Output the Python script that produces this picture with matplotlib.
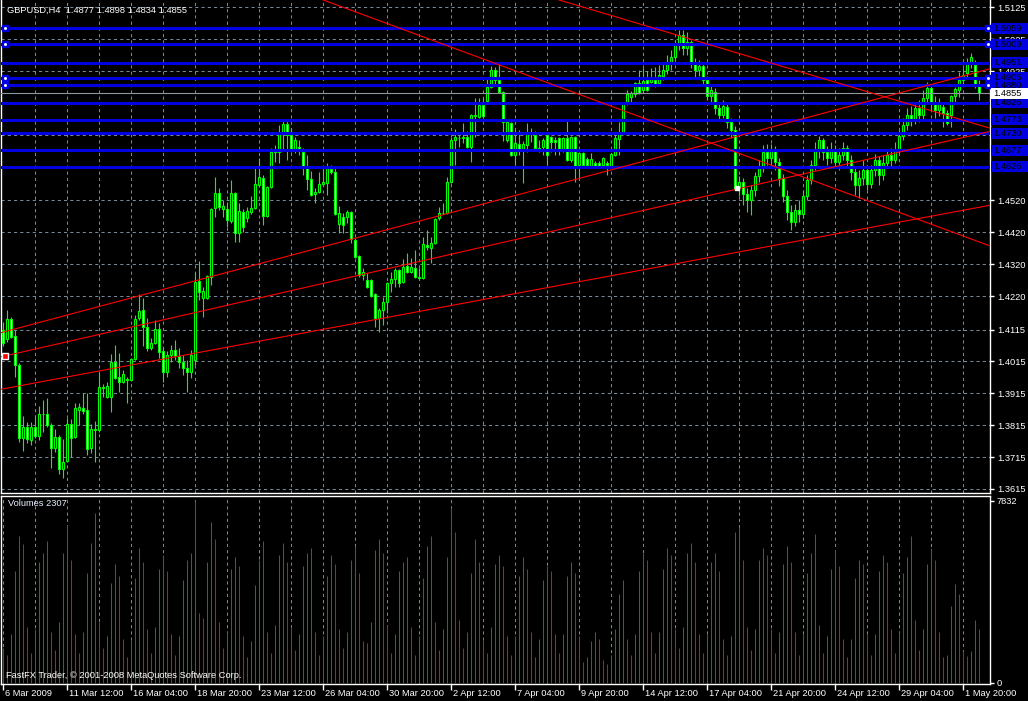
import numpy as np
import matplotlib.pyplot as plt
from matplotlib import transforms
from matplotlib.patches import Rectangle

plt.rcParams['font.family'] = ['Liberation Sans', 'DejaVu Sans']

symbol = "GBPUSD,H4"

# H4 bars, 6 Mar 2009 20:00 .. 4 May 2009 12:00
opens = [
    1.4114, 1.4085, 1.4148, 1.4095, 1.4004, 1.3775, 1.3809, 1.3769, 1.3809, 1.3781,
    1.3850, 1.3850, 1.3816, 1.3744, 1.3778, 1.3678, 1.3703, 1.3819, 1.3778, 1.3863,
    1.3869, 1.3863, 1.3744, 1.3803, 1.3800, 1.3935, 1.3904, 1.3904, 1.4013, 1.3966,
    1.3950, 1.3960, 1.3957, 1.4023, 1.4151, 1.4176, 1.4123, 1.4057, 1.4073, 1.4117,
    1.4048, 1.3982, 1.4035, 1.4051, 1.4032, 1.4013, 1.3994, 1.3982, 1.4019, 1.4267,
    1.4214, 1.4214, 1.4280, 1.4496, 1.4543, 1.4493, 1.4493, 1.4455, 1.4543, 1.4418,
    1.4483, 1.4465, 1.4483, 1.4496, 1.4568, 1.4590, 1.4471, 1.4562, 1.4672, 1.4672,
    1.4728, 1.4759, 1.4725, 1.4678, 1.4687, 1.4672, 1.4625, 1.4587, 1.4540, 1.4546,
    1.4571, 1.4574, 1.4618, 1.4609, 1.4446, 1.4468, 1.4468, 1.4483, 1.4396, 1.4346,
    1.4286, 1.4270, 1.4270, 1.4226, 1.4151, 1.4176, 1.4201, 1.4261, 1.4273, 1.4302,
    1.4264, 1.4314, 1.4295, 1.4308, 1.4280, 1.4277, 1.4380, 1.4370, 1.4386, 1.4465,
    1.4480, 1.4480, 1.4577, 1.4709, 1.4715, 1.4715, 1.4719, 1.4687, 1.4784, 1.4781,
    1.4819, 1.4831, 1.4875, 1.4929, 1.4897, 1.4860, 1.4709, 1.4762, 1.4662, 1.4697,
    1.4678, 1.4693, 1.4731, 1.4725, 1.4684, 1.4687, 1.4725, 1.4719, 1.4709, 1.4715,
    1.4678, 1.4715, 1.4646, 1.4719, 1.4631, 1.4668, 1.4650, 1.4628, 1.4637, 1.4637,
    1.4631, 1.4637, 1.4628, 1.4662, 1.4712, 1.4734, 1.4825, 1.4844, 1.4853, 1.4888,
    1.4866, 1.4897, 1.4891, 1.4897, 1.4888, 1.4910, 1.4929, 1.4954, 1.4969, 1.5007,
    1.5038, 1.4998, 1.5016, 1.4954, 1.4929, 1.4941, 1.4897, 1.4847, 1.4860, 1.4810,
    1.4788, 1.4813, 1.4766, 1.4740, 1.4559, 1.4577, 1.4540, 1.4521, 1.4552, 1.4596,
    1.4621, 1.4672, 1.4653, 1.4678, 1.4640, 1.4590, 1.4534, 1.4483, 1.4452, 1.4490,
    1.4477, 1.4534, 1.4584, 1.4631, 1.4678, 1.4709, 1.4672, 1.4653, 1.4678, 1.4640,
    1.4662, 1.4684, 1.4646, 1.4609, 1.4568, 1.4590, 1.4615, 1.4571, 1.4615, 1.4646,
    1.4599, 1.4637, 1.4662, 1.4646, 1.4678, 1.4722, 1.4756, 1.4788, 1.4772, 1.4810,
    1.4788, 1.4841, 1.4872, 1.4828, 1.4803, 1.4813, 1.4794, 1.4788, 1.4847, 1.4866,
    1.4897, 1.4919, 1.4950, 1.4944, 1.4877]
highs = [
    1.4139, 1.4176, 1.4154, 1.4114, 1.4010, 1.3844, 1.3825, 1.3825, 1.3847, 1.3875,
    1.3894, 1.3900, 1.3822, 1.3803, 1.3784, 1.3772, 1.3838, 1.3834, 1.3885, 1.3885,
    1.3916, 1.3916, 1.3819, 1.3828, 1.3979, 1.3944, 1.3950, 1.4038, 1.4066, 1.4041,
    1.3988, 1.3966, 1.4026, 1.4161, 1.4226, 1.4214, 1.4151, 1.4088, 1.4145, 1.4135,
    1.4060, 1.4048, 1.4066, 1.4082, 1.4057, 1.4035, 1.4019, 1.4051, 1.4295, 1.4330,
    1.4248, 1.4286, 1.4496, 1.4593, 1.4559, 1.4521, 1.4515, 1.4584, 1.4546, 1.4512,
    1.4493, 1.4499, 1.4534, 1.4621, 1.4653, 1.4599, 1.4565, 1.4684, 1.4693, 1.4756,
    1.4772, 1.4769, 1.4747, 1.4719, 1.4709, 1.4684, 1.4662, 1.4612, 1.4559, 1.4609,
    1.4621, 1.4637, 1.4631, 1.4621, 1.4502, 1.4480, 1.4490, 1.4487, 1.4402, 1.4349,
    1.4308, 1.4292, 1.4273, 1.4230, 1.4182, 1.4217, 1.4264, 1.4295, 1.4308, 1.4305,
    1.4336, 1.4355, 1.4339, 1.4364, 1.4308, 1.4405, 1.4427, 1.4405, 1.4465, 1.4499,
    1.4512, 1.4593, 1.4719, 1.4744, 1.4734, 1.4762, 1.4737, 1.4791, 1.4841, 1.4841,
    1.4841, 1.4904, 1.4941, 1.4938, 1.4954, 1.4863, 1.4772, 1.4766, 1.4740, 1.4740,
    1.4706, 1.4762, 1.4747, 1.4737, 1.4709, 1.4715, 1.4731, 1.4722, 1.4719, 1.4719,
    1.4718, 1.4775, 1.4722, 1.4722, 1.4672, 1.4672, 1.4656, 1.4668, 1.4643, 1.4643,
    1.4656, 1.4643, 1.4668, 1.4734, 1.4766, 1.4828, 1.4866, 1.4863, 1.4891, 1.4929,
    1.4935, 1.4926, 1.4935, 1.4938, 1.4944, 1.4954, 1.4976, 1.4991, 1.5023, 1.5054,
    1.5054, 1.5048, 1.5023, 1.4966, 1.4960, 1.4947, 1.4910, 1.4885, 1.4872, 1.4828,
    1.4835, 1.4822, 1.4778, 1.4753, 1.4596, 1.4590, 1.4559, 1.4568, 1.4609, 1.4646,
    1.4693, 1.4697, 1.4697, 1.4690, 1.4653, 1.4603, 1.4552, 1.4505, 1.4508, 1.4521,
    1.4552, 1.4599, 1.4646, 1.4703, 1.4722, 1.4715, 1.4690, 1.4703, 1.4693, 1.4684,
    1.4703, 1.4693, 1.4662, 1.4621, 1.4615, 1.4646, 1.4631, 1.4631, 1.4665, 1.4659,
    1.4662, 1.4678, 1.4684, 1.4703, 1.4740, 1.4778, 1.4810, 1.4816, 1.4828, 1.4835,
    1.4866, 1.4891, 1.4882, 1.4847, 1.4841, 1.4822, 1.4803, 1.4850, 1.4875, 1.4922,
    1.4935, 1.4966, 1.4982, 1.4960, 1.4898]
lows = [
    1.4063, 1.4076, 1.4088, 1.3966, 1.3762, 1.3734, 1.3759, 1.3753, 1.3775, 1.3769,
    1.3794, 1.3809, 1.3681, 1.3731, 1.3662, 1.3650, 1.3700, 1.3715, 1.3775, 1.3816,
    1.3850, 1.3722, 1.3728, 1.3700, 1.3794, 1.3904, 1.3900, 1.3856, 1.3960, 1.3919,
    1.3947, 1.3885, 1.3954, 1.4019, 1.4145, 1.4063, 1.4048, 1.4051, 1.4070, 1.4026,
    1.3950, 1.3966, 1.4013, 1.4019, 1.3994, 1.3972, 1.3919, 1.3963, 1.4004, 1.4208,
    1.4154, 1.4211, 1.4255, 1.4468, 1.4490, 1.4468, 1.4436, 1.4449, 1.4389, 1.4389,
    1.4421, 1.4452, 1.4477, 1.4493, 1.4562, 1.4443, 1.4468, 1.4559, 1.4640, 1.4637,
    1.4678, 1.4646, 1.4672, 1.4668, 1.4662, 1.4599, 1.4552, 1.4534, 1.4512, 1.4543,
    1.4568, 1.4537, 1.4603, 1.4474, 1.4418, 1.4418, 1.4449, 1.4386, 1.4339, 1.4280,
    1.4270, 1.4245, 1.4217, 1.4123, 1.4107, 1.4129, 1.4167, 1.4233, 1.4248, 1.4248,
    1.4261, 1.4292, 1.4292, 1.4277, 1.4270, 1.4273, 1.4364, 1.4324, 1.4383, 1.4458,
    1.4477, 1.4477, 1.4574, 1.4631, 1.4687, 1.4700, 1.4684, 1.4640, 1.4719, 1.4778,
    1.4778, 1.4828, 1.4872, 1.4882, 1.4857, 1.4706, 1.4703, 1.4659, 1.4631, 1.4662,
    1.4574, 1.4672, 1.4703, 1.4681, 1.4672, 1.4662, 1.4631, 1.4672, 1.4662, 1.4662,
    1.4672, 1.4643, 1.4640, 1.4577, 1.4590, 1.4625, 1.4621, 1.4621, 1.4621, 1.4625,
    1.4621, 1.4599, 1.4625, 1.4659, 1.4662, 1.4731, 1.4819, 1.4825, 1.4844, 1.4853,
    1.4860, 1.4863, 1.4888, 1.4875, 1.4882, 1.4897, 1.4916, 1.4929, 1.4960, 1.4991,
    1.4976, 1.4976, 1.4935, 1.4904, 1.4910, 1.4878, 1.4835, 1.4822, 1.4791, 1.4772,
    1.4778, 1.4747, 1.4715, 1.4552, 1.4534, 1.4505, 1.4483, 1.4474, 1.4534, 1.4577,
    1.4609, 1.4631, 1.4628, 1.4615, 1.4565, 1.4515, 1.4458, 1.4427, 1.4440, 1.4452,
    1.4465, 1.4521, 1.4571, 1.4615, 1.4653, 1.4646, 1.4631, 1.4637, 1.4621, 1.4615,
    1.4646, 1.4628, 1.4584, 1.4537, 1.4527, 1.4568, 1.4552, 1.4559, 1.4596, 1.4568,
    1.4584, 1.4621, 1.4628, 1.4637, 1.4665, 1.4709, 1.4740, 1.4753, 1.4759, 1.4766,
    1.4772, 1.4822, 1.4803, 1.4778, 1.4784, 1.4750, 1.4756, 1.4750, 1.4825, 1.4844,
    1.4882, 1.4907, 1.4935, 1.4872, 1.4834]
closes = [
    1.4073, 1.4148, 1.4092, 1.4004, 1.3775, 1.3809, 1.3772, 1.3809, 1.3781, 1.3850,
    1.3851, 1.3816, 1.3744, 1.3778, 1.3678, 1.3700, 1.3819, 1.3775, 1.3869, 1.3872,
    1.3860, 1.3740, 1.3803, 1.3800, 1.3935, 1.3932, 1.3938, 1.4013, 1.3963, 1.3950,
    1.3976, 1.3957, 1.4023, 1.4148, 1.4173, 1.4123, 1.4057, 1.4073, 1.4117, 1.4045,
    1.3982, 1.4035, 1.4051, 1.4032, 1.4013, 1.3994, 1.3982, 1.4035, 1.4264, 1.4233,
    1.4236, 1.4283, 1.4493, 1.4543, 1.4499, 1.4502, 1.4458, 1.4543, 1.4418, 1.4487,
    1.4436, 1.4487, 1.4496, 1.4571, 1.4593, 1.4471, 1.4562, 1.4672, 1.4678, 1.4731,
    1.4759, 1.4725, 1.4678, 1.4709, 1.4678, 1.4625, 1.4587, 1.4537, 1.4546, 1.4571,
    1.4577, 1.4621, 1.4609, 1.4477, 1.4480, 1.4443, 1.4483, 1.4399, 1.4342, 1.4286,
    1.4295, 1.4248, 1.4220, 1.4151, 1.4176, 1.4201, 1.4261, 1.4273, 1.4302, 1.4261,
    1.4311, 1.4295, 1.4311, 1.4280, 1.4277, 1.4383, 1.4374, 1.4386, 1.4462, 1.4480,
    1.4481, 1.4577, 1.4709, 1.4719, 1.4716, 1.4719, 1.4687, 1.4788, 1.4788, 1.4819,
    1.4784, 1.4875, 1.4929, 1.4897, 1.4860, 1.4766, 1.4766, 1.4662, 1.4700, 1.4678,
    1.4697, 1.4731, 1.4728, 1.4684, 1.4681, 1.4709, 1.4662, 1.4703, 1.4703, 1.4678,
    1.4715, 1.4646, 1.4719, 1.4628, 1.4668, 1.4631, 1.4631, 1.4650, 1.4628, 1.4628,
    1.4653, 1.4631, 1.4665, 1.4715, 1.4734, 1.4825, 1.4853, 1.4857, 1.4888, 1.4857,
    1.4894, 1.4866, 1.4900, 1.4882, 1.4913, 1.4929, 1.4954, 1.4969, 1.5007, 1.5038,
    1.4998, 1.5016, 1.4954, 1.4929, 1.4941, 1.4897, 1.4847, 1.4866, 1.4810, 1.4788,
    1.4816, 1.4766, 1.4740, 1.4559, 1.4577, 1.4540, 1.4521, 1.4552, 1.4596, 1.4621,
    1.4672, 1.4653, 1.4678, 1.4640, 1.4590, 1.4534, 1.4483, 1.4452, 1.4490, 1.4477,
    1.4534, 1.4584, 1.4631, 1.4678, 1.4709, 1.4672, 1.4653, 1.4678, 1.4640, 1.4662,
    1.4684, 1.4646, 1.4609, 1.4568, 1.4590, 1.4615, 1.4571, 1.4615, 1.4646, 1.4599,
    1.4637, 1.4662, 1.4646, 1.4678, 1.4722, 1.4756, 1.4788, 1.4772, 1.4810, 1.4788,
    1.4841, 1.4872, 1.4828, 1.4803, 1.4822, 1.4794, 1.4762, 1.4847, 1.4869, 1.4897,
    1.4913, 1.4950, 1.4969, 1.4878, 1.4855]

# one row per trading day: 00, 04, 08, 12, 16, 20
volumes = [
    1500,
    1200, 2100, 4800, 6300, 5950, 2400,
    1300, 2300, 5200, 5600, 6100, 2200,
    1400, 2600, 5600, 6800, 5300, 2100,
    1300, 2200, 4700, 6000, 7290, 2600,
    1500, 2000, 4300, 5100, 4600, 1900,
    1100, 1900, 4500, 5800, 5200, 2300,
    1300, 2400, 4900, 5500, 4800, 2100,
    1200, 2000, 4400, 5300, 5600, 7832,
    3000, 2800, 5200, 6900, 6200, 2600,
    1500, 2200, 4900, 5400, 5000, 2000,
    1100, 1800, 4200, 5300, 6100, 2200,
    1300, 2500, 5500, 6000, 5200, 2400,
    1400, 2100, 5000, 5600, 5800, 2200,
    1200, 2000, 4600, 5500, 5100, 2300,
    1500, 2200, 5300, 5900, 4700, 1800,
    1700, 2600, 5700, 6200, 5600, 2500,
    1300, 2100, 4800, 5200, 5400, 2400,
    1200, 2000, 4500, 5900, 6300, 2600,
    1400, 2300, 5400, 7500, 6500, 2700,
    1500, 2200, 4700, 6200, 5200, 1900,
    1300, 2400, 5100, 5500, 5000, 2000,
    1200, 2000, 4600, 5400, 4900, 2200,
    1100, 1900, 4400, 5000, 4800, 2100,
    1300, 2100, 4600, 5200, 4700, 2000,
    900, 1100, 1800, 2200, 1900, 1000,
    800, 1200, 2300, 3800, 4400, 1900,
    1200, 2100, 4800, 5600, 5300, 2200,
    1300, 2200, 4900, 5800, 5500, 2300,
    1500, 2400, 5600, 6000, 5200, 2100,
    1300, 2100, 5200, 5600, 4800, 1900,
    1200, 2000, 6500, 6700, 5300, 2400,
    1400, 2300, 5300, 5800, 5500, 2300,
    1300, 2200, 5100, 5900, 5200, 2200,
    1200, 2100, 4700, 5600, 6400, 2500,
    1300, 2000, 4900, 5700, 5000, 1900,
    1100, 1900, 4500, 5300, 5100, 2100,
    1200, 2100, 4800, 5500, 5200, 2300,
    1300, 2200, 4700, 5400, 6300, 2700,
    1400, 2300, 5100, 5800, 5300, 2200,
    1126, 1198, 3295, 4237, 3809, 1370,
    1155, 1370, 2696, 2307]

time_labels = ["6 Mar 2009", "11 Mar 12:00", "16 Mar 04:00", "18 Mar 20:00",
               "23 Mar 12:00", "26 Mar 04:00", "30 Mar 20:00", "2 Apr 12:00",
               "7 Apr 04:00", "9 Apr 20:00", "14 Apr 12:00", "17 Apr 04:00",
               "21 Apr 20:00", "24 Apr 12:00", "29 Apr 04:00", "1 May 20:00"]
price_ticks = [1.5125, 1.5025, 1.4925, 1.4825, 1.4725, 1.4620, 1.4520, 1.4420,
               1.4320, 1.4220, 1.4115, 1.4015, 1.3915, 1.3815, 1.3715, 1.3615]
# grid levels whose scale label is fully covered by a level box
covered_ticks = [1.4825, 1.4725, 1.4620]
level_prices = [1.5059, 1.5009, 1.4951, 1.4905, 1.4880, 1.4826, 1.4773,
                1.4730, 1.4677, 1.4626]
selected_levels = [1.5059, 1.5009, 1.4905, 1.4880]
# trend lines as (bar, price) anchor pairs, drawn as rays
trend_lines = [((0, 1.4107), (240, 1.4910)),
               ((0, 1.4031), (240, 1.4717)),
               ((0, 1.3929), (240, 1.4489)),
               ((80, 1.5148), (240, 1.4408)),
               ((139, 1.5148), (240, 1.4771))]

W, H = 1028, 701
fig = plt.figure(figsize=(W / 100, H / 100), dpi=100, facecolor='black')


def px_axes(x0, y0, x1, y1):
    return fig.add_axes([x0 / W, 1 - y1 / H, (x1 - x0) / W, (y1 - y0) / H])


ax = px_axes(1, 0, 990, 493)
axv = px_axes(1, 496, 990, 684)

n = len(closes)
x = np.arange(n)
xlim = ((1 - 3.3) / 4, (990 - 3.3) / 4)
grid_bars = list(range(8, n, 8))
label_bars = [0] + list(range(16, n, 16))

GRID = '#778899'
LIME = '#00ff00'
BLUE = '#0000e0'
FS = 6.7

for a in (ax, axv):
    a.set_facecolor('black')
    a.set_xlim(*xlim)
    for s in a.spines.values():
        s.set_color('white')
        s.set_linewidth(1)
    a.set_axisbelow(True)
ax.spines['top'].set_visible(False)

# price panel
top_price = 1.5148
per_px = 0.0003135
ax.set_ylim(top_price - 493 * per_px, top_price)
ax.set_xticks(grid_bars)
ax.tick_params(axis='x', length=0, labelbottom=False)
ax.yaxis.tick_right()
ax.set_yticks(price_ticks)
ax.set_yticklabels(['' if p in covered_ticks else '%.4f' % p for p in price_ticks])
ax.tick_params(axis='y', colors='white', length=3, width=1, pad=2, labelsize=FS)
ax.grid(True, color=GRID, linestyle=(0, (3, 3)), linewidth=0.75)

o = np.array(opens)
c = np.array(closes)
ax.vlines(x, lows, highs, color=LIME, linewidth=0.8, zorder=3)
fills = ['white' if cc < oo else 'black' for oo, cc in zip(o, c)]
ax.bar(x, np.abs(c - o), bottom=np.minimum(o, c), width=0.55, color=fills,
       edgecolor=LIME, linewidth=0.8, zorder=4)

# trend lines
xs = np.array(xlim)
for (b0, p0), (b1, p1) in trend_lines:
    slope = (p1 - p0) / (b1 - b0)
    ax.plot(xs, p0 + slope * (xs - b0), color='red', linewidth=0.8, zorder=6)
ax.plot(0.4, trend_lines[1][0][1], marker='s', ms=4, mfc='red', mec='white',
        mew=1, zorder=8)
ax.plot(183.4, closes[183], marker='s', ms=3, mfc='white', mec='white', zorder=8)

# horizontal levels with right-hand labels
mix = transforms.blended_transform_factory(ax.transAxes, ax.transData)
box_h = 11 * per_px
for p in level_prices:
    ax.axhline(p, color=BLUE, linewidth=2.2, zorder=5)
    ax.add_patch(Rectangle((1.001, p - box_h / 2), 0.04, box_h, transform=mix,
                           facecolor=BLUE, edgecolor='none', clip_on=False, zorder=9))
    ax.text(1.0035, p, '%.4f' % p, transform=mix, color='black', fontsize=FS,
            va='center', ha='left', clip_on=False, zorder=10)
for p in selected_levels:
    for xa in (0.004, 0.9975):
        ax.plot(xa, p, transform=mix, marker='s', ms=5, mfc=BLUE, mec=BLUE,
                zorder=7, clip_on=False)
        ax.plot(xa, p, transform=mix, marker='s', ms=1, mfc='white', mec='white',
                zorder=8, clip_on=False)

last = closes[-1]
ax.axhline(last, color='#8c96a0', linewidth=0.8, zorder=5)
ax.add_patch(Rectangle((1.001, last - box_h / 2), 0.04, box_h, transform=mix,
                       facecolor='white', edgecolor='none', clip_on=False, zorder=9))
ax.text(1.0035, last, '%.4f' % last, transform=mix, color='black', fontsize=FS,
        va='center', ha='left', clip_on=False, zorder=10)

title = '%s  %.4f %.4f %.4f %.4f' % (symbol, opens[-1], highs[-1], lows[-1], closes[-1])
fig.text(7 / W, 1 - 10 / H, title, color='white', fontsize=FS, va='center')

# volume panel
vmax = max(volumes)
vscale = vmax / 182.5
axv.set_ylim(-1 * vscale, 187 * vscale)
vcolors = ['#008c00'] + ['#008c00' if volumes[i] > volumes[i - 1] else '#ff0000'
                         for i in range(1, n)]
axv.vlines(x, 0, volumes, colors=vcolors, linewidth=0.75, zorder=3)
axv.yaxis.tick_right()
axv.set_yticks([0, vmax])
axv.set_yticklabels(['0', str(vmax)])
axv.tick_params(axis='y', colors='white', length=3, width=1, pad=2, labelsize=FS)
axv.set_xticks(label_bars)
axv.set_xticklabels([])
axv.set_xticks(grid_bars, minor=True)
axv.tick_params(axis='x', which='major', colors='white', length=4, width=1)
axv.tick_params(axis='x', which='minor', length=0)
axv.grid(True, which='both', axis='x', color=GRID, linestyle=(0, (3, 3)),
         linewidth=0.75)
lab_tr = transforms.offset_copy(
    transforms.blended_transform_factory(axv.transData, axv.transAxes),
    fig=fig, x=2, y=-9, units='dots')
for b, lab in zip(label_bars, time_labels):
    axv.text(b, 0, lab, transform=lab_tr, color='white', fontsize=FS,
             ha='left', va='center', clip_on=False)

fig.text(8 / W, 1 - 504 / H, 'Volumes %d' % volumes[-1], color='#e8f0ff',
         fontsize=FS, va='center')
fig.text(6 / W, 1 - 675.5 / H, 'FastFX Trader, © 2001-2008 MetaQuotes Software Corp.',
         color='white', fontsize=FS, va='center')

fig.savefig('out.png', dpi=100, facecolor='black')
